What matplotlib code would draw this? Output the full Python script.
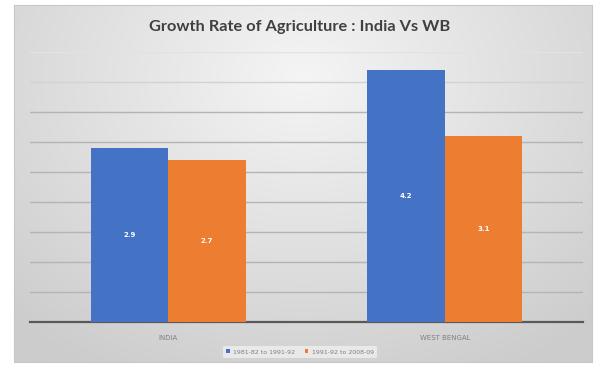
import numpy as np
import matplotlib
matplotlib.use("Agg")
import matplotlib.pyplot as plt

categories = ["INDIA", "WEST BENGAL"]
series_names = ["1981-82 to 1991-92", "1991-92 to 2008-09"]
period1 = [2.9, 4.2]
period2 = [2.7, 3.1]
colors = ["#4472C4", "#ED7D31"]

fig = plt.figure(figsize=(6.0, 3.69), dpi=100)
fig.patch.set_facecolor("white")

# Chart-area background: soft grey radial gradient inside a framed box
bg = fig.add_axes([0, 0, 1, 1], zorder=0)
bg.set_xlim(0, 600)
bg.set_ylim(369, 0)
bg.axis("off")
x0, x1, y0, y1 = 14, 592, 5, 362
xx, yy = np.meshgrid(np.linspace(-1, 1, 300), np.linspace(-1, 1, 200))
r = np.sqrt((xx * 0.9) ** 2 + ((yy + 0.6) * 0.7) ** 2)
vals = np.clip(0.96 - 0.12 * r, 0.80, 0.97)
bg.imshow(np.dstack([vals] * 3), extent=[x0, x1, y1, y0], aspect="auto",
          interpolation="bilinear", zorder=0)
bg.plot([x0, x1, x1, x0, x0], [y0, y0, y1, y1, y0], color="#c8c8c8", lw=0.8, zorder=1)

ax = fig.add_axes([30 / 600, 1 - 322 / 369, (583 - 30) / 600, (322 - 52) / 369], zorder=2)
ax.patch.set_alpha(0)
x = np.arange(len(categories))
w = 0.28
b1 = ax.bar(x - w / 2, period1, w, color=colors[0], label=series_names[0], zorder=3)
b2 = ax.bar(x + w / 2, period2, w, color=colors[1], label=series_names[1], zorder=3)
for bars in (b1, b2):
    for rect in bars:
        h = rect.get_height()
        ax.text(rect.get_x() + rect.get_width() / 2, h / 2, f"{h:.1f}",
                ha="center", va="center", color="white", fontsize=5, fontweight="bold", zorder=4)

ax.set_xlim(-0.5, 1.5)
ax.set_ylim(0, 4.5)
# Horizontal gridlines, fading toward the top of the plot
for level in np.arange(0.5, 4.51, 0.5):
    c = "#b4b4b4" if level <= 3.5 else ("#d2d2d2" if level < 4.25 else "#e2e2e2")
    ax.axhline(level, color=c, lw=1.0, zorder=0)
ax.tick_params(axis="y", left=False, labelleft=False)
ax.tick_params(axis="x", bottom=False, labelsize=5, labelcolor="#7f7f7f", pad=6)
ax.set_xticks(x)
ax.set_xticklabels(categories)
for s in ["top", "right", "left"]:
    ax.spines[s].set_visible(False)
ax.spines["bottom"].set_color("#595959")
ax.spines["bottom"].set_linewidth(1.6)

fig.text(0.5, 1 - 27 / 369, "Growth Rate of Agriculture : India Vs WB", ha="center", va="center",
         fontsize=11.8, fontweight="bold", color="#404040", family="Lato")

leg = fig.legend(handles=[b1, b2], labels=series_names, loc="center",
                 bbox_to_anchor=(0.5, 1 - 352 / 369), ncol=2, frameon=True, fontsize=4.5,
                 handlelength=0.6, handleheight=0.6, columnspacing=1.5, handletextpad=0.5,
                 borderpad=0.6)
leg.get_frame().set_facecolor("#efefef")
leg.get_frame().set_edgecolor("none")
for t in leg.get_texts():
    t.set_color("#7f7f7f")

fig.savefig("out.png", dpi=100, facecolor="white")
